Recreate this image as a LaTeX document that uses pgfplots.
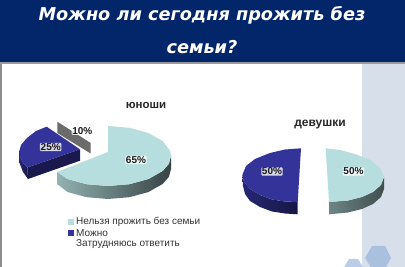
\documentclass[border=0pt]{standalone}
\usepackage{fontspec}
\setmainfont{Liberation Sans}
\newfontfamily\titlefont{DejaVu Sans}
\usepackage{pgfplots}
\pgfplotsset{compat=1.18}
\definecolor{navy}{HTML}{03256A}
\definecolor{panel}{HTML}{D7DFEA}
\definecolor{hex}{HTML}{A9C0DE}
\definecolor{lt}{HTML}{B7DEDF}
\definecolor{bl}{HTML}{33339A}
\begin{document}
\begin{tikzpicture}
\begin{axis}[at={(0,0)},anchor=south west,scale only axis,width=405pt,height=267pt,
  xmin=0,xmax=405,ymin=0,ymax=267,y dir=reverse,axis lines=none,
  every axis plot/.append style={draw=none,no markers,line width=0pt,forget plot}]
% background
\addplot[fill=black!45] coordinates {(0,63)(1.5,63)(1.5,267)(0,267)};
\addplot[fill=navy] coordinates {(0,0)(405,0)(405,62.5)(0,62.5)};
\addplot[fill=black!40] coordinates {(0,62.5)(405,62.5)(405,64)(0,64)};
\addplot[fill=white] coordinates {(1.5,64)(362,64)(362,267)(1.5,267)};
\addplot[fill=panel] coordinates {(362,64)(405,64)(405,267)(362,267)};
\addplot[fill=hex!80!white] coordinates {(343,269)(349,259)(358,259)(364,269)};
\addplot[fill=hex] coordinates {(365,258)(372,246)(385,246)(391,258)(385,269)(372,269)};
% boys: 65%
\addplot[left color=lt!80!black,right color=lt!30!black] coordinates {(171,156)(168.9,163.8)(162.6,171)(148.5,179)(129.5,184.2)(108,186)(86.5,184.2)(67.5,179)(57,172)(57,184)(67.5,192)(86.5,197.2)(108,199)(129.5,197.2)(148.5,192)(162.6,184)(168.9,176.8)(171,169)};
\addplot[fill=lt] coordinates {(108,152)(108,126)(129.5,127.8)(148.5,133)(162.6,141)(170,150.8)(171,156)(168.9,163.8)(162.6,171)(148.5,179)(129.5,184.2)(108,186)(86.5,184.2)(67.5,179)(57,172)};
% boys: 25%
\addplot[left color=bl!75!black,right color=bl!45!black] coordinates {(19.3,151)(19.5,163)(23,172)(28,179)(27.3,167.5)(23,163)(20,157)};
\addplot[fill=bl!50!black] coordinates {(27.3,167.5)(28,179)(80,160.7)(80,149.3)};
\addplot[fill=bl] coordinates {(46.7,126.7)(36,131)(27,138)(21,145)(19.3,151)(20,157)(23,163)(27.3,167.5)(80,149.3)};
% boys: 10%
\addplot[fill=black!58] coordinates {(57.3,121.7)(90.7,143)(90.7,153.5)(57.3,133)};
% girls: 50% blue
\addplot[left color=bl!75!black,right color=bl!45!black] coordinates {(242.3,175)(243,186)(245,194)(250,201)(260,207)(272,211.5)(285,213.5)(297.7,214.3)(297.7,202)(285,201.5)(272,199.5)(260,195)(250,189)(244,182)};
\addplot[fill=bl] coordinates {(301,148.3)(285,149.5)(270,153)(255,159)(246,166)(242.3,175)(244,182)(250,189)(260,195)(272,199.5)(285,201.5)(297.7,202)};
% girls: 50% light
\addplot[left color=lt!60!black,right color=lt!35!black] coordinates {(329,202)(348,200.5)(362,197)(373,192)(381,185)(384,177)(384,189)(381,197)(373,204)(362,209)(348,212.5)(329,214.3)};
\addplot[fill=lt] coordinates {(325.7,148.3)(340,150)(355,154)(370,160)(380,168)(384,177)(381,185)(373,192)(362,197)(348,200.5)(329,202)};
% legend markers
\addplot[fill=lt] coordinates {(68,219.5)(74,219.5)(74,225.5)(68,225.5)};
\addplot[fill=bl] coordinates {(68,230.5)(74,230.5)(74,236)(68,236)};
% texts
\node[white,font=\titlefont\bfseries\itshape\fontsize{17.7}{20}\selectfont] at (axis cs:202,15.5) {Можно ли сегодня прожить без};
\node[white,font=\titlefont\bfseries\itshape\fontsize{17.7}{20}\selectfont] at (axis cs:202,47) {семьи?};
\node[black!85,font=\bfseries\fontsize{11.5}{12}\selectfont] at (axis cs:146,105) {юноши};
\node[black!85,font=\bfseries\fontsize{12}{14}\selectfont] at (axis cs:320,124.5) {девушки};
\tikzset{pct/.style={black!90,font=\bfseries\fontsize{10}{12}\selectfont,inner sep=0.7pt,fill=white,fill opacity=.8,text opacity=1,rounded corners=1pt}}
\node[pct] at (axis cs:82.3,130.7) {10\%};
\node[pct] at (axis cs:50.7,147) {25\%};
\node[pct] at (axis cs:136,160) {65\%};
\node[pct] at (axis cs:272,171.5) {50\%};
\node[pct] at (axis cs:353.5,171.5) {50\%};
\tikzset{leg/.style={black!80,anchor=west,inner sep=0pt,font=\fontsize{10}{11}\selectfont}}
\node[leg] at (axis cs:76,222) {Нельзя прожить без семьи};
\node[leg] at (axis cs:76,233) {Можно};
\node[leg] at (axis cs:76,244) {Затрудняюсь ответить};
\end{axis}
\end{tikzpicture}
\end{document}
